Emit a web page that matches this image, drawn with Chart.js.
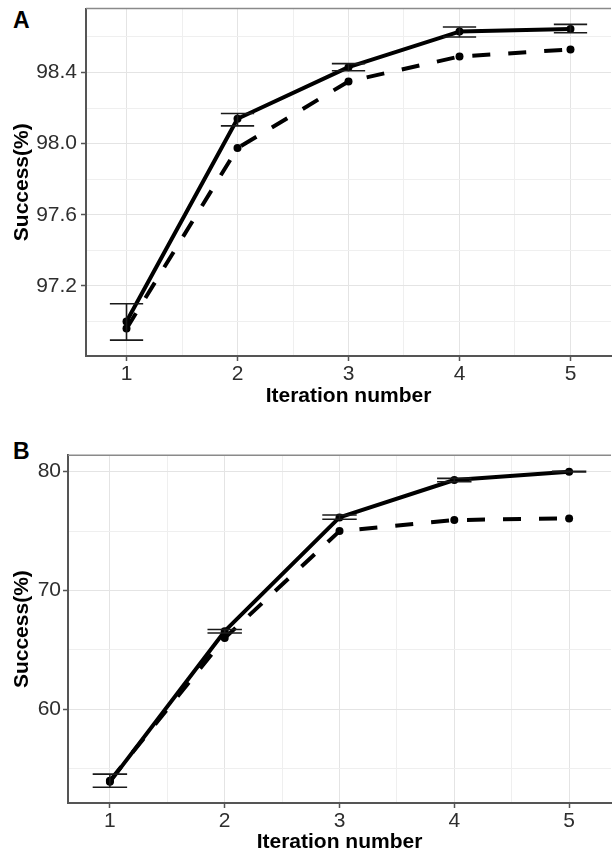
<!DOCTYPE html>
<html>
<head>
<meta charset="utf-8">
<script src="https://cdn.jsdelivr.net/npm/chart.js@4/dist/chart.umd.min.js"></script>
<style>
  html, body { margin: 0; padding: 0; background: #fff; overflow: hidden; }
  body { width: 612px; height: 855px; position: relative; }
  canvas { position: absolute; left: 0; }
  #chartA { top: 0; }
  #chartB { top: 430px; }
  .tag { position: absolute; left: 13px; font: bold 23px 'Liberation Sans', Arial, sans-serif; line-height: 1; color: #000; }
</style>
</head>
<body>
<div class="tag" style="top:9px">A</div>
<div class="tag" style="top:440px">B</div>
<canvas id="chartA" width="615" height="425"></canvas>
<canvas id="chartB" width="615" height="425"></canvas>
<script>
// 迭代次数
const iterations = [1, 2, 3, 4, 5];
const xMajorTicks = [1, 2, 3, 4, 5];
const xMinorTicks = [1.5, 2.5, 3.5, 4.5];

// 图 A
const aSolid = [97.00, 98.14, 98.43, 98.63, 98.645];
const aSolidLow = [96.895, 98.10, 98.41, 98.60, 98.624];
const aSolidHigh = [97.10, 98.17, 98.45, 98.656, 98.671];
const aDashed = [96.96, 97.975, 98.35, 98.49, 98.53];
const aMajorTicks = [97.2, 97.6, 98.0, 98.4];
const aMinorTicks = [97.0, 97.4, 97.8, 98.2, 98.6];

// 图 B
const bSolid = [53.9, 66.58, 76.15, 79.3, 80.0];
const bSolidLow = [53.45, 66.43, 76.0, 79.16, 79.97];
const bSolidHigh = [54.55, 66.72, 76.35, 79.44, 80.03];
const bDashed = [54.0, 66.0, 75.0, 75.93, 76.07];
const bMajorTicks = [60, 70, 80];
const bMinorTicks = [55, 65, 75];

const FONT = "'Liberation Sans', Arial, sans-serif";
const ERR_HALF_WIDTH = 0.15;

const isMajor = (list, v) => list.some(m => Math.abs(m - v) < 1e-9);

/**
 * 误差线插件
 */
function errorBarPlugin(low, high) {
  return {
    id: 'errorBars',
    afterDatasetsDraw(chart) {
      const { ctx } = chart;
      const { x, y } = chart.scales;
      ctx.save();
      ctx.strokeStyle = '#1a1a1a';
      ctx.lineWidth = 1.6;
      iterations.forEach((it, i) => {
        const x0 = x.getPixelForValue(it - ERR_HALF_WIDTH);
        const x1 = x.getPixelForValue(it + ERR_HALF_WIDTH);
        const xc = x.getPixelForValue(it);
        const yl = y.getPixelForValue(low[i]);
        const yh = y.getPixelForValue(high[i]);
        ctx.beginPath();
        ctx.moveTo(x0, yh); ctx.lineTo(x1, yh);
        ctx.moveTo(xc, yh); ctx.lineTo(xc, yl);
        ctx.moveTo(x0, yl); ctx.lineTo(x1, yl);
        ctx.stroke();
      });
      ctx.restore();
    }
  };
}

// 面板上边框
const panelTop = {
  id: 'panelTop',
  beforeDatasetsDraw(chart) {
    const { ctx, chartArea: a } = chart;
    ctx.save();
    ctx.strokeStyle = '#8a8a8a';
    ctx.lineWidth = 1.5;
    ctx.beginPath();
    ctx.moveTo(a.left, a.top);
    ctx.lineTo(a.right, a.top);
    ctx.stroke();
    ctx.restore();
  }
};

function makeChart(canvasId, p) {
  const ctx = document.getElementById(canvasId).getContext('2d');
  const gridOpts = (major) => ({
    color: c => (c.tick && isMajor(major, c.tick.value)) ? '#e4e4e4' : '#efefef',
    lineWidth: 1,
    tickColor: c => (c.tick && isMajor(major, c.tick.value)) ? '#555' : 'rgba(0,0,0,0)',
    tickWidth: 1.5,
    tickLength: 5
  });

  return new Chart(ctx, {
    type: 'line',
    data: {
      datasets: [
        {
          data: iterations.map((it, i) => ({ x: it, y: p.solid[i] })),
          borderColor: '#000',
          backgroundColor: '#000',
          borderWidth: 4,
          borderJoinStyle: 'round',
          pointRadius: 4,
          pointBorderWidth: 0,
          pointBackgroundColor: '#000',
          tension: 0
        },
        {
          data: iterations.map((it, i) => ({ x: it, y: p.dashed[i] })),
          borderColor: '#000',
          backgroundColor: '#000',
          borderWidth: 4,
          borderDash: [18, 18],
          borderJoinStyle: 'round',
          pointRadius: 4,
          pointBorderWidth: 0,
          pointBackgroundColor: '#000',
          tension: 0
        }
      ]
    },
    options: {
      responsive: false,
      animation: false,
      devicePixelRatio: 1,
      layout: { padding: { top: p.padTop, left: 0, right: 0, bottom: 0 } },
      plugins: {
        legend: { display: false },
        tooltip: { enabled: false }
      },
      scales: {
        x: {
          type: 'linear',
          min: 0.635,
          max: 5.365,
          afterBuildTicks: axis => {
            axis.ticks = [...xMajorTicks, ...xMinorTicks].sort((a, b) => a - b).map(v => ({ value: v }));
          },
          afterFit: s => { s.height = p.xAxisHeight; s.paddingLeft = 0; s.paddingRight = 0; },
          grid: gridOpts(xMajorTicks),
          border: { display: true, color: '#555', width: 2 },
          ticks: {
            autoSkip: false,
            maxRotation: 0,
            padding: 1,
            color: '#2e2e2e',
            font: { family: FONT, size: 21 },
            callback: v => isMajor(xMajorTicks, v) ? String(v) : ''
          },
          title: {
            display: true,
            text: 'Iteration number',
            color: '#000',
            font: { family: FONT, size: 21, weight: 'bold' },
            padding: { top: 0, bottom: p.xTitlePad }
          }
        },
        y: {
          type: 'linear',
          min: p.yMin,
          max: p.yMax,
          afterBuildTicks: axis => {
            axis.ticks = [...p.major, ...p.minor].sort((a, b) => a - b).map(v => ({ value: v }));
          },
          afterFit: s => { s.width = p.yAxisWidth; s.paddingTop = 0; s.paddingBottom = 0; },
          grid: gridOpts(p.major),
          border: { display: true, color: '#555', width: 2 },
          ticks: {
            autoSkip: false,
            padding: p.yTickPad,
            color: '#2e2e2e',
            font: { family: FONT, size: 21 },
            callback: v => isMajor(p.major, v) ? v.toFixed(p.decimals) : ''
          },
          title: {
            display: true,
            text: 'Success(%)',
            color: '#000',
            font: { family: FONT, size: 21, weight: 'bold' },
            padding: { top: 9.4, bottom: 0 }
          }
        }
      }
    },
    plugins: [panelTop, errorBarPlugin(p.low, p.high)]
  });
}

makeChart('chartA', {
  solid: aSolid, dashed: aDashed, low: aSolidLow, high: aSolidHigh,
  major: aMajorTicks, minor: aMinorTicks, decimals: 1,
  yMin: 96.806, yMax: 98.760,
  padTop: 8.5, xAxisHeight: 69, yAxisWidth: 86, yTickPad: 4, xTitlePad: 16
});

makeChart('chartB', {
  solid: bSolid, dashed: bDashed, low: bSolidLow, high: bSolidHigh,
  major: bMajorTicks, minor: bMinorTicks, decimals: 0,
  yMin: 52.12, yMax: 81.38,
  padTop: 25.3, xAxisHeight: 52, yAxisWidth: 68, yTickPad: 2, xTitlePad: 0
});
</script>
</body>
</html>
